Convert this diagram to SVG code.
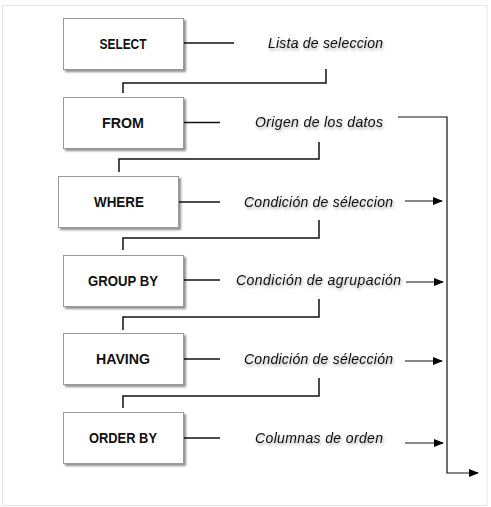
<svg xmlns="http://www.w3.org/2000/svg" width="491" height="507" viewBox="0 0 491 507">
<defs>
<filter id="sh" x="-10%" y="-10%" width="125%" height="130%">
<feGaussianBlur in="SourceAlpha" stdDeviation="1.2"/>
<feOffset dx="1.5" dy="2" result="b"/>
<feComponentTransfer><feFuncA type="linear" slope="0.45"/></feComponentTransfer>
<feMerge><feMergeNode/><feMergeNode in="SourceGraphic"/></feMerge>
</filter>
<filter id="tsh" x="-5%" y="-30%" width="110%" height="170%">
<feGaussianBlur in="SourceAlpha" stdDeviation="1.5"/>
<feOffset dx="1" dy="2"/>
<feComponentTransfer><feFuncA type="linear" slope="0.35"/></feComponentTransfer>
<feMerge><feMergeNode/><feMergeNode in="SourceGraphic"/></feMerge>
</filter>
<marker id="ah" markerWidth="10" markerHeight="8" refX="9" refY="4" orient="auto" markerUnits="userSpaceOnUse">
<path d="M0,0 L10,4 L0,8 Z" fill="#000"/>
</marker>
</defs>
<style>
.box{fill:#fff;stroke:#9a9a9a;stroke-width:1}
.kw{font-family:"Liberation Sans",Arial,sans-serif;font-weight:bold;font-size:14px;fill:#111;text-anchor:middle}
.lb{font-family:"Liberation Sans",Arial,sans-serif;font-style:italic;font-size:14px;fill:#111;text-anchor:middle}
.ln{fill:none;stroke:#111;stroke-width:1.5}
.ar{fill:none;stroke:#111;stroke-width:1.2;marker-end:url(#ah)}
</style>
<rect x="0" y="0" width="491" height="507" fill="#fff"/>
<rect x="2.5" y="5.5" width="484.5" height="500" fill="none" stroke="#e6e6e6" stroke-width="1"/>

<g id="connectors">
<line class="ln" x1="184" y1="43" x2="234" y2="43"/>
<line class="ln" x1="184" y1="122.5" x2="220" y2="122.5"/>
<line class="ln" x1="179" y1="202" x2="220" y2="202"/>
<line class="ln" x1="184" y1="280" x2="220" y2="280"/>
<line class="ln" x1="184" y1="359" x2="220" y2="359"/>
<line class="ln" x1="184" y1="438" x2="220" y2="438"/>
<polyline class="ln" points="326,69 326,83 123,83 123,93"/>
<polyline class="ln" points="319,142 319,159 119,159 119,172"/>
<polyline class="ln" points="319,220 319,238 123,238 123,250"/>
<polyline class="ln" points="319,299 319,317 123,317 123,330"/>
<polyline class="ln" points="319,378 319,396 123,396 123,408"/>
<polyline class="ar" points="398,117 447,117 447,473 478,473"/>
<line class="ar" x1="405" y1="201" x2="442" y2="201"/>
<line class="ar" x1="406" y1="282" x2="443" y2="282"/>
<line class="ar" x1="405" y1="361" x2="442" y2="361"/>
<line class="ar" x1="405" y1="443" x2="443" y2="443"/>
</g>

<g id="select"><rect class="box" x="63.5" y="18.5" width="120" height="51" filter="url(#sh)"/><text class="kw" x="123" y="49" textLength="47" lengthAdjust="spacingAndGlyphs">SELECT</text></g>
<g id="from"><rect class="box" x="63.5" y="97.5" width="120" height="51" filter="url(#sh)"/><text class="kw" x="123" y="128" textLength="42" lengthAdjust="spacingAndGlyphs">FROM</text></g>
<g id="where"><rect class="box" x="58.5" y="176.5" width="120" height="51" filter="url(#sh)"/><text class="kw" x="119" y="207" textLength="50" lengthAdjust="spacingAndGlyphs">WHERE</text></g>
<g id="groupby"><rect class="box" x="63.5" y="255.5" width="120" height="51" filter="url(#sh)"/><text class="kw" x="123" y="286" textLength="70" lengthAdjust="spacingAndGlyphs">GROUP BY</text></g>
<g id="having"><rect class="box" x="63.5" y="333.5" width="120" height="51" filter="url(#sh)"/><text class="kw" x="123" y="364" textLength="54" lengthAdjust="spacingAndGlyphs">HAVING</text></g>
<g id="orderby"><rect class="box" x="63.5" y="412.5" width="120" height="51" filter="url(#sh)"/><text class="kw" x="123" y="443" textLength="68" lengthAdjust="spacingAndGlyphs">ORDER BY</text></g>

<g id="labels" filter="url(#tsh)">
<text class="lb" x="325.5" y="48" textLength="115">Lista de seleccion</text>
<text class="lb" x="319" y="127" textLength="128">Origen de los datos</text>
<text class="lb" x="318.5" y="207" textLength="149">Condición de séleccion</text>
<text class="lb" x="318.5" y="285" textLength="165">Condición de agrupación</text>
<text class="lb" x="318.5" y="364" textLength="149">Condición de sélección</text>
<text class="lb" x="319" y="443" textLength="128">Columnas de orden</text>
</g>
</svg>
